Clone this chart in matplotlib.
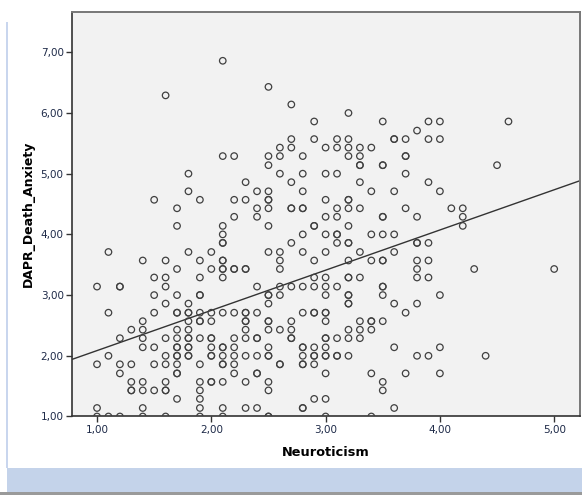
import numpy as np
import matplotlib.pyplot as plt
from matplotlib.patches import Rectangle

# Neuroticism score columns and the DAPR death anxiety values seen in each
neuro_cols = [1.0, 1.1, 1.2, 1.3, 1.4, 1.5, 1.6, 1.7, 1.8, 1.9,
              2.0, 2.1, 2.2, 2.3, 2.4, 2.5, 2.6, 2.7, 2.8, 2.9,
              3.0, 3.1, 3.2, 3.3, 3.4, 3.5, 3.6, 3.7, 3.8, 3.9,
              4.0, 4.1, 4.2, 4.3, 4.4, 4.5, 4.6, 5.0]

anxiety_cols = [
    [3.14, 1.86, 1.14, 1.00],
    [3.71, 2.71, 2.00, 1.00],
    [3.14, 3.14, 2.29, 1.86, 1.71, 1.00],
    [2.43, 1.86, 1.57, 1.43, 1.43],
    [3.57, 2.57, 2.43, 2.29, 2.14, 1.57, 1.43, 1.14, 1.00],
    [4.57, 3.29, 3.00, 2.71, 2.14, 1.86, 1.43],
    [6.29, 3.57, 3.29, 3.14, 2.86, 2.29, 2.00, 1.86, 1.57, 1.43, 1.43, 1.00],
    [4.43, 4.14, 3.43, 3.00, 2.71, 2.71, 2.43, 2.29, 2.14, 2.14, 2.00, 2.00, 1.86, 1.71, 1.71, 1.29],
    [5.00, 4.71, 3.71, 2.86, 2.71, 2.71, 2.57, 2.43, 2.29, 2.29, 2.14, 2.14, 2.00, 2.00],
    [4.57, 3.57, 3.29, 3.00, 3.00, 2.71, 2.57, 2.57, 2.29, 1.86, 1.57, 1.43, 1.29, 1.14, 1.00],
    [3.71, 3.43, 2.71, 2.57, 2.29, 2.29, 2.14, 2.00, 2.00, 1.57, 1.57],
    [6.86, 5.29, 4.14, 4.00, 3.86, 3.86, 3.57, 3.57, 3.43, 3.43, 3.29, 2.71, 2.14, 2.14, 2.00, 1.86, 1.86, 1.57, 1.14, 1.00],
    [5.29, 4.57, 4.29, 3.43, 3.43, 2.71, 2.29, 2.14, 2.00, 1.86, 1.71],
    [4.86, 4.57, 3.43, 3.43, 2.71, 2.71, 2.57, 2.57, 2.43, 2.29, 2.00, 1.57, 1.14],
    [4.71, 4.43, 4.29, 3.14, 2.71, 2.29, 2.29, 2.00, 1.71, 1.71, 1.14],
    [6.43, 5.29, 5.14, 4.71, 4.57, 4.57, 4.43, 4.14, 3.71, 3.00, 3.00, 2.86, 2.57, 2.57, 2.43, 2.14, 2.00, 2.00, 1.57, 1.43, 1.00, 1.00],
    [5.43, 5.29, 5.00, 3.71, 3.57, 3.43, 3.14, 3.00, 2.43, 1.86, 1.86],
    [6.14, 5.57, 5.43, 4.86, 4.43, 4.43, 3.86, 3.14, 2.57, 2.43, 2.29, 2.29],
    [5.29, 5.00, 4.71, 4.43, 4.43, 4.00, 3.71, 3.14, 2.71, 2.14, 2.14, 2.00, 1.86, 1.86, 1.14, 1.14],
    [5.86, 5.57, 4.14, 4.14, 3.57, 3.29, 3.14, 2.71, 2.71, 2.14, 2.00, 2.00, 1.86, 1.29],
    [5.43, 5.00, 4.57, 4.29, 4.00, 3.71, 3.29, 3.14, 3.00, 2.71, 2.71, 2.57, 2.29, 2.29, 2.14, 2.00, 2.00, 1.71, 1.29, 1.00],
    [5.57, 5.43, 5.00, 4.43, 4.29, 4.00, 4.00, 3.86, 3.14, 2.29, 2.00, 2.00],
    [6.00, 5.57, 5.43, 5.29, 4.57, 4.57, 4.43, 4.14, 3.86, 3.86, 3.57, 3.29, 3.29, 3.00, 3.00, 2.86, 2.86, 2.43, 2.29, 2.00],
    [5.43, 5.29, 5.14, 5.14, 4.86, 4.43, 3.71, 3.29, 2.57, 2.43, 2.29],
    [5.43, 4.71, 4.00, 3.57, 2.57, 2.57, 2.43, 1.71, 1.00],
    [5.86, 5.14, 5.14, 4.29, 4.29, 4.00, 3.57, 3.57, 3.14, 3.14, 3.00, 2.57, 1.57, 1.43],
    [5.57, 5.57, 4.71, 4.00, 3.71, 2.86, 2.14, 1.14],
    [5.57, 5.29, 5.29, 5.00, 4.43, 2.71, 1.71],
    [5.71, 4.29, 3.86, 3.86, 3.57, 3.43, 3.29, 2.86, 2.00],
    [5.86, 5.57, 4.86, 3.86, 3.57, 3.29, 2.00],
    [5.86, 5.57, 4.71, 3.00, 2.14, 1.71],
    [4.43],
    [4.43, 4.29, 4.14],
    [3.43],
    [2.00],
    [5.14],
    [5.86],
    [3.43],
]

x_ticks = [1, 2, 3, 4, 5]
y_ticks = [1, 2, 3, 4, 5, 6, 7]

x = []
y = []
for xc, ys in zip(neuro_cols, anxiety_cols):
    for v in ys:
        x.append(xc)
        y.append(v)
x = np.array(x)
y = np.array(y)

# linear fit line, as SPSS draws it
slope, intercept = np.polyfit(x, y, 1)

fig = plt.figure(figsize=(5.82, 4.95), dpi=100)
fig.patch.set_facecolor('white')

# window-ish decorations from the screenshot
fig.patches.append(Rectangle((0.012, 0.006), 0.988, 0.049, transform=fig.transFigure,
                             facecolor='#c4d3ea', edgecolor='none', zorder=0))
fig.patches.append(Rectangle((0.0, 0.0), 1.0, 0.006, transform=fig.transFigure,
                             facecolor='#9a9a9a', edgecolor='none', zorder=0))
fig.patches.append(Rectangle((0.011, 0.055), 0.002, 0.90, transform=fig.transFigure,
                             facecolor='#c9d6ee', edgecolor='none', zorder=0))

ax = fig.add_axes([0.1237, 0.1586, 0.8729, 0.8172])
ax.set_facecolor('#f2f2f2')

ax.scatter(x, y, s=22, facecolors='none', edgecolors='#404040', linewidths=0.9, zorder=3)

xmin, xmax = 0.781, 5.226
xs = np.array([xmin, xmax])
ax.plot(xs, intercept + slope * xs, color='#333333', linewidth=1.0, zorder=2)

ax.set_xlim(xmin, xmax)
ax.set_ylim(1.0, 7.664)

ax.set_xticks(x_ticks)
ax.set_yticks(y_ticks)
ax.set_xticklabels([('%.2f' % t).replace('.', ',') for t in x_ticks])
ax.set_yticklabels([('%.2f' % t).replace('.', ',') for t in y_ticks])
ax.tick_params(axis='both', direction='out', length=4, width=1, color='#333333',
               labelsize=7.5, labelcolor='#1e2a48', pad=2)

for side in ['left', 'bottom']:
    ax.spines[side].set_color('#333333')
    ax.spines[side].set_linewidth(1.2)
for side in ['top', 'right']:
    ax.spines[side].set_color('#777777')
    ax.spines[side].set_linewidth(1.4)

ax.set_xlabel('Neuroticism', fontsize=9.3, fontweight='bold', labelpad=8)
ax.set_ylabel('DAPR_Death_Anxiety', fontsize=9, fontweight='bold', labelpad=4)

plt.savefig('out.png', dpi=100)
